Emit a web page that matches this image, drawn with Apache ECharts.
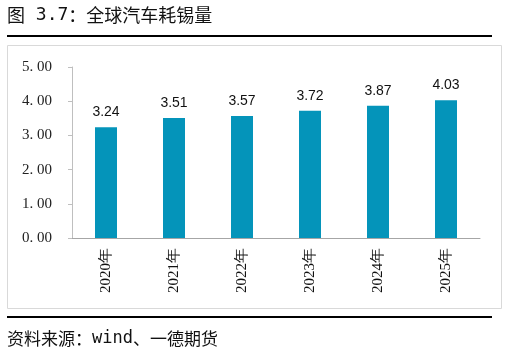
<!DOCTYPE html>
<html><head><meta charset="utf-8">
<script src="https://cdn.jsdelivr.net/npm/echarts@6/dist/echarts.min.js"></script>
<style>html,body{margin:0;padding:0;background:#fff}#c{width:508px;height:362px}</style>
</head><body><div id="c"></div>
<script>
const categories = ['2020年','2021年','2022年','2023年','2024年','2025年'];
const values = [3.24, 3.51, 3.57, 3.72, 3.87, 4.03];
const yTicks = [0, 1, 2, 3, 4, 5];
const chart = echarts.init(document.getElementById('c'));
const cjk = '"Noto Sans CJK SC"';
chart.setOption({
  animation: false,
  graphic: [
    {type:'text', left: 7, top: 6, style:{text:'图{m| 3.7}：全球汽车耗锡量', fontFamily:cjk, fontSize:18, fill:'#111',
      rich:{m:{fontFamily:'DejaVu Sans Mono', fontSize:18, fill:'#111'}}}},
    {type:'rect', shape:{x:0,y:0,width:485,height:2}, left:7, top:35, style:{fill:'#000'}},
    {type:'rect', shape:{x:7.5,y:45.5,width:494,height:263}, style:{fill:'none', stroke:'#d9d9d9', lineWidth:1}},
    {type:'rect', shape:{x:0,y:0,width:485,height:2}, left:7, top:316, style:{fill:'#000'}},
    {type:'text', left: 7, top: 330, style:{text:'资料来源：{m|wind}、一德期货', fontFamily:cjk, fontSize:17, fill:'#111',
      rich:{m:{fontFamily:'DejaVu Sans Mono', fontSize:17, fill:'#111'}}}}
  ],
  grid: {left: 72, top: 67, right: 28, bottom: 124},
  xAxis: {
    type:'category', data: categories,
    axisLine:{show:true, lineStyle:{color:'#a6a6a6'}},
    axisTick:{show:false},
    axisLabel:{rotate:90, color:'#111', fontFamily:'Liberation Serif', fontSize:15, margin:10}
  },
  yAxis: {
    type:'value', min: yTicks[0], max: yTicks[yTicks.length-1], interval: 1,
    splitLine:{show:false},
    axisLine:{show:true, lineStyle:{color:'#bfbfbf'}},
    axisTick:{show:true, length:4, lineStyle:{color:'#bfbfbf'}},
    axisLabel:{formatter: v => v.toFixed(2).replace('.', '. '), color:'#222', fontFamily:'Liberation Serif', fontSize:15, margin:20}
  },
  series: [{
    type:'bar', data: values, barWidth: 22,
    itemStyle:{color:'#0494BA'},
    label:{show:true, position:'top', distance:8, formatter: p => p.value.toFixed(2), color:'#111', fontFamily:'Liberation Sans', fontSize:14}
  }]
});
</script></body></html>
